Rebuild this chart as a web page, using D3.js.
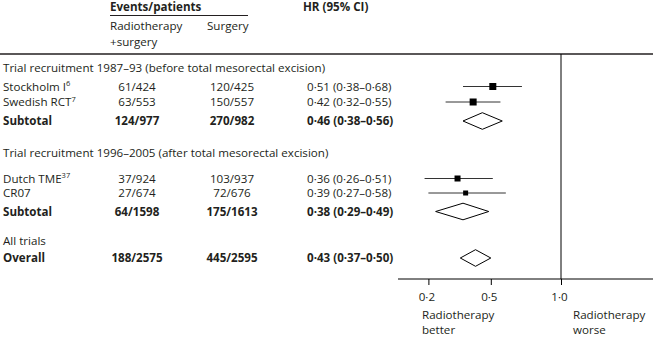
<!DOCTYPE html>
<html>
<head>
<meta charset="utf-8">
<script src="https://cdn.jsdelivr.net/npm/d3@7"></script>
<style>
  body { margin: 0; background: #fff; }
  text { font-family: "Open Sans", sans-serif; font-size: 11.6px; fill: #231f20; }
  .bold { font-weight: bold; }
</style>
</head>
<body>
<div id="chart"></div>
<script>
// trials
const trialNames = ["Stockholm I", "Swedish RCT", "Dutch TME", "CR07"];
const trialRefs = ["6", "7", "37", ""];
const trialGroup = [0, 0, 1, 1];
const radioEvents = [61, 63, 37, 27];
const radioPatients = [424, 553, 924, 674];
const surgEvents = [120, 150, 103, 72];
const surgPatients = [425, 557, 937, 676];
const trialHR = [0.51, 0.42, 0.36, 0.39];
const trialLow = [0.38, 0.32, 0.26, 0.27];
const trialHigh = [0.68, 0.55, 0.51, 0.58];
const trialWeight = [7, 7, 6, 5];

// pooled estimates
const groupTitles = [
  "Trial recruitment 1987–93 (before total mesorectal excision)",
  "Trial recruitment 1996–2005 (after total mesorectal excision)",
  "All trials"
];
const pooledNames = ["Subtotal", "Subtotal", "Overall"];
const pooledRadioEvents = [124, 64, 188];
const pooledRadioPatients = [977, 1598, 2575];
const pooledSurgEvents = [270, 175, 445];
const pooledSurgPatients = [982, 1613, 2595];
const pooledHR = [0.46, 0.38, 0.43];
const pooledLow = [0.38, 0.29, 0.37];
const pooledHigh = [0.56, 0.49, 0.50];

// axis
const tickValues = [0.27, 0.5, 1];
const tickLabels = ["0·2", "0·5", "1·0"];

const W = 653, H = 337;

const svg = d3.select("#chart").append("svg")
    .attr("width", W)
    .attr("height", H);

// build the row list
let rows = [];
groupTitles.forEach((title, g) => {
  rows.push({ type: "title", label: title });
  trialNames.forEach((name, i) => {
    if (trialGroup[i] !== g) return;
    rows.push({ type: "trial", label: name, ref: trialRefs[i],
      re: radioEvents[i], rp: radioPatients[i], se: surgEvents[i], sp: surgPatients[i],
      hr: trialHR[i], lo: trialLow[i], hi: trialHigh[i], w: trialWeight[i] });
  });
  rows.push({ type: "pooled", label: pooledNames[g], ref: "",
    re: pooledRadioEvents[g], rp: pooledRadioPatients[g], se: pooledSurgEvents[g], sp: pooledSurgPatients[g],
    hr: pooledHR[g], lo: pooledLow[g], hi: pooledHigh[g] });
});

// row baselines (layout)
const y = d3.scaleOrdinal()
    .domain(d3.range(rows.length))
    .range([72, 90.5, 106, 125, 157, 182.5, 197, 215.5, 245, 262]);

const x = d3.scaleLog()
    .domain([0.2, 1])
    .range([398, 561]);

const size = d3.scaleLinear().domain([0, 7]).range([0, 7]);

const fmt = v => d3.format(".2f")(v).replace(".", "·");
const hrText = d => fmt(d.hr) + " (" + fmt(d.lo) + "–" + fmt(d.hi) + ")";

const col = { label: 3, radio: 137, surg: 232, hr: 307 };

// header
svg.append("text").attr("class", "bold").attr("x", 110).attr("y", 11).text("Events/patients");
svg.append("line").attr("x1", 110).attr("x2", 248).attr("y1", 15.5).attr("y2", 15.5)
    .attr("stroke", "#231f20").attr("stroke-width", 1);
svg.append("text").attr("x", 110).attr("y", 30).text("Radiotherapy");
svg.append("text").attr("x", 110).attr("y", 46).text("+surgery");
svg.append("text").attr("x", 207).attr("y", 30).text("Surgery");
svg.append("text").attr("class", "bold").attr("x", 303).attr("y", 11).text("HR (95% CI)");

// separator under the header
const topY = 54;
svg.append("line").attr("x1", 0).attr("x2", W).attr("y1", topY).attr("y2", topY)
    .attr("stroke", "#231f20").attr("stroke-width", 1.3);

// row texts
const rowG = svg.selectAll(".row")
  .data(rows)
  .enter().append("g")
    .attr("class", d => "row " + (d.type === "pooled" ? "bold" : ""))
    .attr("transform", (d, i) => "translate(0," + y(i) + ")");

const lab = rowG.append("text").attr("x", col.label);
lab.append("tspan").text(d => d.label);
lab.filter(d => d.ref).append("tspan")
    .attr("dy", -4.5)
    .style("font-size", "7.5px")
    .text(d => d.ref);

const data = rowG.filter(d => d.type !== "title");
data.append("text").attr("x", col.radio).style("text-anchor", "middle").text(d => d.re + "/" + d.rp);
data.append("text").attr("x", col.surg).style("text-anchor", "middle").text(d => d.se + "/" + d.sp);
data.append("text").attr("x", col.hr).text(hrText);

// marks, centred a little above the baseline
const markG = data.append("g").attr("transform", "translate(0,-4)");

const trialMarks = markG.filter(d => d.type === "trial");
trialMarks.append("line")
    .attr("x1", d => x(d.lo))
    .attr("x2", d => x(d.hi))
    .attr("stroke", "#333")
    .attr("stroke-width", 1);
trialMarks.append("rect")
    .attr("x", d => x(d.hr) - size(d.w) / 2)
    .attr("y", d => -size(d.w) / 2)
    .attr("width", d => size(d.w))
    .attr("height", d => size(d.w))
    .attr("fill", "#000");

markG.filter(d => d.type === "pooled").append("path")
    .attr("d", d => {
      const h = 8.3;
      return "M" + x(d.lo) + ",0L" + x(d.hr) + "," + (-h) + "L" + x(d.hi) + ",0L" + x(d.hr) + "," + h + "Z";
    })
    .attr("fill", "#fff")
    .attr("stroke", "#000")
    .attr("stroke-width", 1);

// axis
const axisY = 279;
svg.append("line")
    .attr("x1", x(0.2)).attr("x2", W)
    .attr("y1", axisY).attr("y2", axisY)
    .attr("stroke", "#000").attr("stroke-width", 1);

// line of no effect
svg.append("line")
    .attr("x1", x(1)).attr("x2", x(1))
    .attr("y1", topY).attr("y2", axisY)
    .attr("stroke", "#000").attr("stroke-width", 1);

const axisG = svg.append("g")
    .attr("transform", "translate(0," + axisY + ")")
    .call(d3.axisBottom(x)
      .tickValues(tickValues)
      .tickFormat((d, i) => tickLabels[i])
      .tickSize(6)
      .tickPadding(8));
axisG.select(".domain").remove();
axisG.selectAll(".tick line").attr("stroke", "#000");
axisG.selectAll(".tick text")
    .attr("dx", -2)
    .style("font-family", "\"Open Sans\", sans-serif")
    .style("font-size", "11.6px")
    .attr("fill", "#231f20");

// direction labels
svg.append("text").attr("x", 422).attr("y", 319).text("Radiotherapy");
svg.append("text").attr("x", 422).attr("y", 334).text("better");
svg.append("text").attr("x", 573).attr("y", 319).text("Radiotherapy");
svg.append("text").attr("x", 573).attr("y", 334).text("worse");
</script>
</body>
</html>
